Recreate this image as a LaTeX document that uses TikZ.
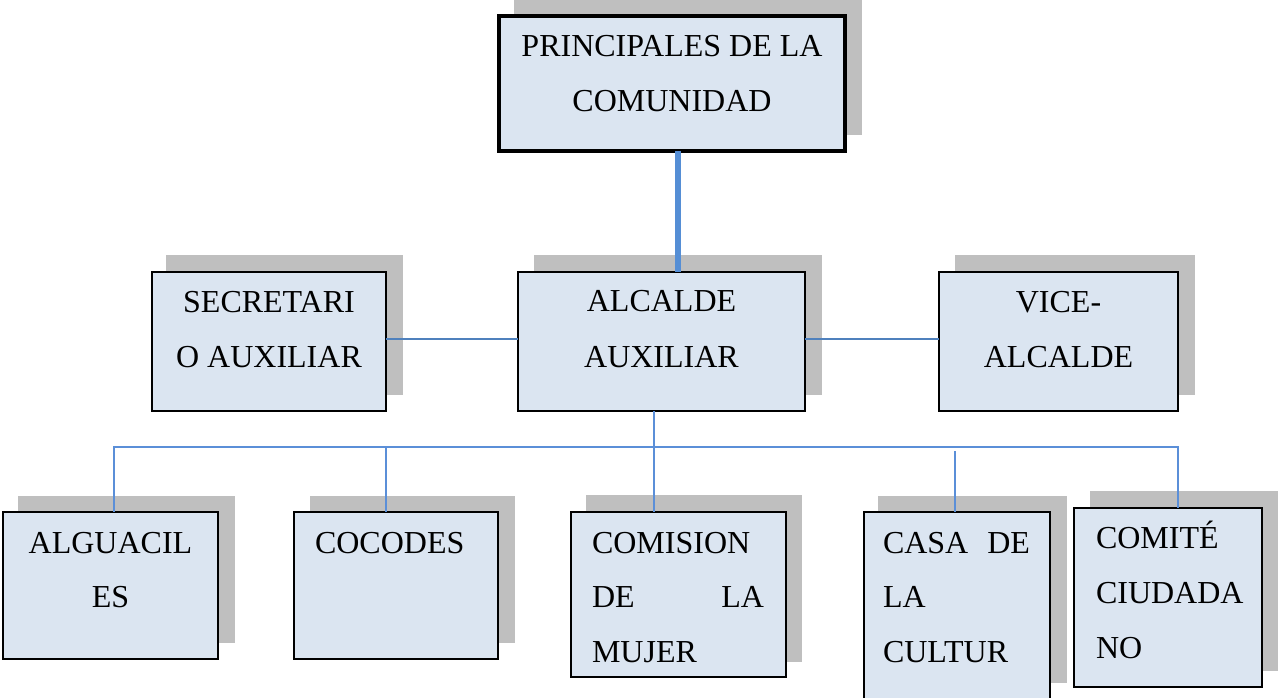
\documentclass[tikz,border=0pt]{standalone}
\usepackage{fontspec}
\setmainfont{Liberation Serif}
\definecolor{boxfill}{HTML}{DBE5F1}
\definecolor{shadowc}{HTML}{BFBFBF}
\definecolor{thickblue}{HTML}{558ED5}
\definecolor{thinblue}{HTML}{4F81BD}
\definecolor{busblue}{HTML}{5B8FD8}
\tikzset{
  orgbox/.style={draw=black, fill=boxfill, line width=2.2pt, inner sep=0pt, outer sep=0pt},
  topbox/.style={orgbox, line width=4pt},
  lbl/.style={inner sep=0pt, outer sep=0pt, font=\fontsize{32}{38}\selectfont},
  thickline/.style={draw=thickblue, line width=5.5pt},
  sideline/.style={draw=thinblue, line width=1.5pt},
  busline/.style={draw=busblue, line width=1.5pt},
  shadowbox/.style={fill=shadowc}
}
\begin{document}
\begin{tikzpicture}[x=1pt,y=-1pt]
\useasboundingbox (0,0) rectangle (1278,698);
\clip (0,0) rectangle (1278,698);

% shadows
\fill[shadowbox] (514,-4) rectangle (862,135);
\fill[shadowbox] (166,255) rectangle (403,395);
\fill[shadowbox] (534,255) rectangle (822,395);
\fill[shadowbox] (955,255) rectangle (1195,395);
\fill[shadowbox] (18,496) rectangle (235,643);
\fill[shadowbox] (310,496) rectangle (515,643);
\fill[shadowbox] (586,495) rectangle (802,662);
\fill[shadowbox] (878,496) rectangle (1067,683);
\fill[shadowbox] (1090,491) rectangle (1290,671);

% boxes
\node[topbox, minimum width=346pt, minimum height=135pt] (top) at (672,83.5) {};
\node[orgbox, minimum width=234pt, minimum height=139pt] (sec) at (269,341.5) {};
\node[orgbox, minimum width=287pt, minimum height=139pt] (alc) at (661.5,341.5) {};
\node[orgbox, minimum width=239pt, minimum height=139pt] (vice) at (1058.5,341.5) {};
\node[orgbox, minimum width=215pt, minimum height=147pt] (alg) at (110.5,585.5) {};
\node[orgbox, minimum width=204pt, minimum height=147pt] (coc) at (396,585.5) {};
\node[orgbox, minimum width=215pt, minimum height=165pt] (com) at (678.5,594.5) {};
\node[orgbox, minimum width=186pt, minimum height=208pt] (casa) at (957,616) {};
\node[orgbox, minimum width=188pt, minimum height=179pt] (cmt) at (1168,597.5) {};

% helper coordinates
\coordinate (xthick) at (678,0);
\coordinate (ymid) at (0,339);
\coordinate (busM) at (654,447);
\coordinate (busL) at (114,447);
\coordinate (busC) at (386,447);
\coordinate (busR) at (1178,447);
\coordinate (casaTop) at (955,451);

% connectors
\draw[thickline] (top.south -| xthick) -- (alc.north -| xthick);
\draw[sideline] (sec.east |- ymid) -- (alc.west |- ymid);
\draw[sideline] (alc.east |- ymid) -- (vice.west |- ymid);
\draw[busline] (alc.south -| busM) -- (busM);
\draw[busline] (alg.north -| busL) -- (busL) -- (busR) -- (cmt.north -| busR);
\draw[busline] (busC) -- (coc.north -| busC);
\draw[busline] (busM) -- (com.north -| busM);
\draw[busline] (casaTop) -- (casa.north -| casaTop);

% texts
\node[lbl, anchor=base] (t1) at (672,57) {PRINCIPALES DE LA};
\node[lbl, anchor=base] (t2) at (672,112) {COMUNIDAD};
\node[lbl, anchor=base] (s1) at (269,312) {SECRETARI};
\node[lbl, anchor=base] (s2) at (269,367) {O AUXILIAR};
\node[lbl, anchor=base] (a1) at (661.5,311) {ALCALDE};
\node[lbl, anchor=base] (a2) at (661.5,367) {AUXILIAR};
\node[lbl, anchor=base] (v1) at (1058.5,312) {VICE-};
\node[lbl, anchor=base] (v2) at (1058.5,367) {ALCALDE};
\node[lbl, anchor=base] (g1) at (110.5,553) {ALGUACIL};
\node[lbl, anchor=base] (g2) at (110.5,607) {ES};
\node[lbl, anchor=base west] (c1) at (315,553) {COCODES};
\node[lbl, anchor=base west] (m1) at (592,553) {COMISION};
\node[lbl, anchor=base west] (m2) at (592,607) {\hbox to 172pt{DE\hfill LA}};
\node[lbl, anchor=base west] (m3) at (592,662) {MUJER};
\node[lbl, anchor=base west] (k1) at (883,553) {\hbox to 147pt{CASA\hfill DE}};
\node[lbl, anchor=base west] (k2) at (883,607) {LA};
\node[lbl, anchor=base west] (k3) at (883,662) {CULTUR};
\node[lbl, anchor=base west] (n1) at (1096,548) {COMITÉ};
\node[lbl, anchor=base west] (n2) at (1096,603) {CIUDADA};
\node[lbl, anchor=base west] (n3) at (1096,658) {NO};
\end{tikzpicture}
\end{document}
